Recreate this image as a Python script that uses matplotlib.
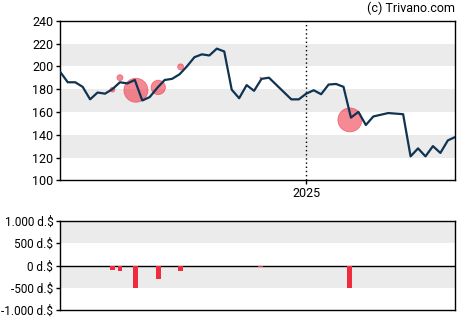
import numpy as np
import pandas as pd
import matplotlib
matplotlib.use('Agg')
import matplotlib.pyplot as plt
import matplotlib.dates as mdates

plt.rcParams['font.family'] = ['Roboto', 'DejaVu Sans']

# Kursverlauf (woechentlich)
price_dates = ['2024-05-15', '2024-05-22', '2024-05-29', '2024-06-05', '2024-06-12', '2024-06-19',
               '2024-06-26', '2024-07-03', '2024-07-10', '2024-07-17', '2024-07-24', '2024-07-31',
               '2024-08-07', '2024-08-14', '2024-08-21', '2024-08-28', '2024-09-04', '2024-09-11',
               '2024-09-18', '2024-09-25', '2024-10-02', '2024-10-09', '2024-10-16', '2024-10-23',
               '2024-10-30', '2024-11-06', '2024-11-13', '2024-11-20', '2024-11-27', '2024-12-18',
               '2024-12-25', '2025-01-01', '2025-01-08', '2025-01-15', '2025-01-22', '2025-01-29',
               '2025-02-05', '2025-02-12', '2025-02-19', '2025-02-26', '2025-03-05', '2025-03-19',
               '2025-04-02', '2025-04-09', '2025-04-16', '2025-04-23', '2025-04-30', '2025-05-07',
               '2025-05-14', '2025-05-21']
price_values = [195, 186, 186, 182, 171, 177,
                176, 180, 186, 185, 188, 170,
                173, 181, 188, 189, 193, 200,
                208, 210.5, 209.5, 215.5, 213, 179.5,
                172, 183.5, 178.5, 189, 190, 171,
                171, 176, 179, 175.5, 184, 184.5,
                182, 155, 160, 148.5, 156, 159,
                158, 121, 128, 121, 130, 124,
                135, 138]

# Insider-Transaktionen
trade_dates = ['2024-07-03', '2024-07-10', '2024-07-25', '2024-08-15', '2024-09-05', '2024-11-19', '2025-02-11']
trade_prices = [179.5, 190, 179, 181.5, 199.5, 190, 153]
trade_amounts = [-100, -125, -500, -300, -125, -25, -500]

start, end = pd.Timestamp('2024-05-15'), pd.Timestamp('2025-05-21')
marker_2025 = pd.Timestamp('2025-01-01')

pd_dates = pd.to_datetime(price_dates)
td = pd.to_datetime(trade_dates)
amounts = np.array(trade_amounts)

fig = plt.figure(figsize=(4.70, 3.25), dpi=100)
ax1 = fig.add_axes([0.1283, 0.4452, 0.8404, 0.4911])
ax2 = fig.add_axes([0.1283, 0.0452, 0.8404, 0.2757])

band = '#ebebeb'
red = '#ee2b3f'

# oberes Diagramm
for lo in (120, 160, 200):
    ax1.axhspan(lo, lo + 20, color=band, lw=0, zorder=0)
ax1.axvline(marker_2025, color='black', ls=(0, (1, 2)), lw=1, zorder=1)
ax1.scatter(td, trade_prices, s=(0.03456 * np.abs(amounts)) ** 2,
            color=red, alpha=0.55, edgecolors=red, linewidths=0.6, zorder=2)
ax1.plot(pd_dates, price_values, color='#0f3350', lw=1.6, zorder=3)
ax1.set_xlim(start, end)
ax1.set_ylim(100, 240)
ax1.set_yticks(range(100, 241, 20))
ax1.set_xticks([marker_2025])
ax1.xaxis.set_major_formatter(mdates.DateFormatter('%Y'))
ax1.tick_params(axis='both', labelsize=9, length=3, width=1, colors='black', pad=2)

# unteres Diagramm
for lo in (-500, 500):
    ax2.axhspan(lo, lo + 500, color=band, lw=0, zorder=0)
ax2.axhline(0, color='black', lw=1, zorder=1)
ax2.bar(td, amounts, width=4.5, color=red, zorder=2)
ax2.set_xlim(start, end)
ax2.set_ylim(-1000, 1000)
ax2.set_yticks([1000, 500, 0, -500, -1000])
ax2.set_yticklabels(['1.000 d.$', '500 d.$', '0 d.$', '-500 d.$', '-1.000 d.$'])
ax2.set_xticks([])
ax2.tick_params(axis='y', labelsize=8.5, length=3, width=1, colors='black', pad=2)

for ax in (ax1, ax2):
    for sp in ax.spines.values():
        sp.set_color('black')
        sp.set_linewidth(1)

fig.text(0.968, 0.975, '(c) Trivano.com', ha='right', va='center', fontsize=9)

fig.savefig('out.png', dpi=100)
